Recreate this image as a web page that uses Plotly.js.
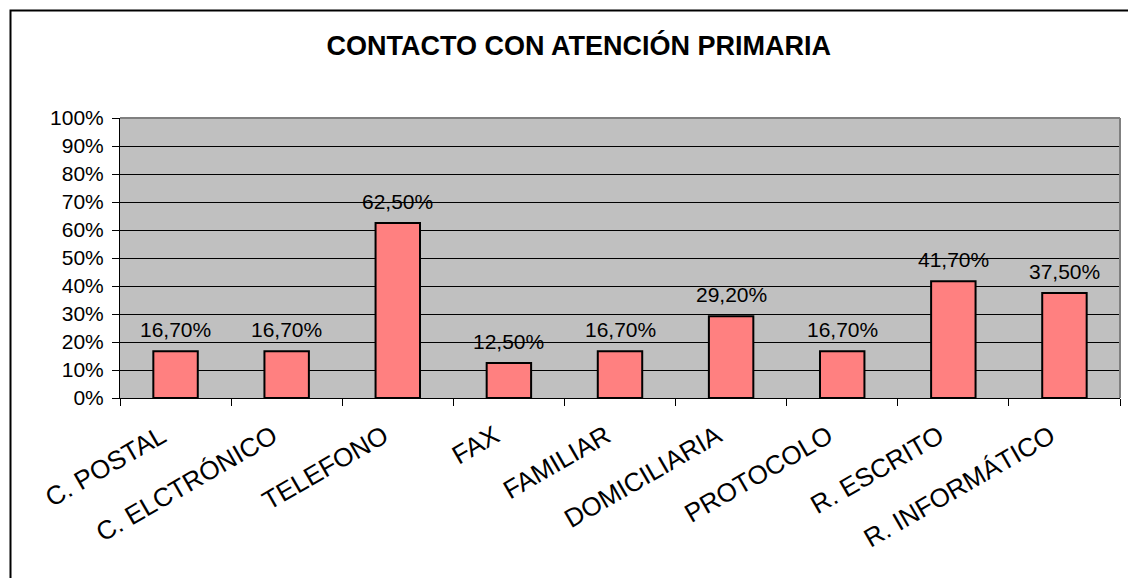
<!DOCTYPE html>
<html>
<head>
<meta charset="utf-8">
<script src="https://cdn.plot.ly/plotly-3.0.1.min.js"></script>
<style>
  html, body { margin: 0; padding: 0; background: #ffffff; }
  #chart { width: 1128px; height: 578px; }
</style>
</head>
<body>
<div id="chart"></div>
<script>
// ---- data ----
const categories = ["C. POSTAL", "C. ELCTRÓNICO", "TELEFONO", "FAX", "FAMILIAR", "DOMICILIARIA", "PROTOCOLO", "R. ESCRITO", "R. INFORMÁTICO"];
const values = [0.167, 0.167, 0.625, 0.125, 0.167, 0.292, 0.167, 0.417, 0.375];
const chartTitle = "CONTACTO CON ATENCIÓN PRIMARIA";

const fmt = v => (v * 100).toFixed(2).replace('.', ',') + '%';

const font = "Liberation Sans, Arial, sans-serif";

const trace = {
  type: 'bar',
  x: categories,
  y: values,
  marker: { color: '#FF8080', line: { color: '#000000', width: 2 } },
  hoverinfo: 'skip'
};

const annotations = categories.map((c, i) => ({
  x: c, y: values[i], xref: 'x', yref: 'y',
  text: fmt(values[i]), showarrow: false,
  yanchor: 'bottom', yshift: 8,
  font: { family: font, size: 21, color: '#000' }
}));

const layout = {
  width: 1128, height: 578,
  margin: { l: 120, r: 8, t: 118, b: 180 },
  paper_bgcolor: '#ffffff',
  plot_bgcolor: '#C0C0C0',
  showlegend: false,
  bargap: 0.6,
  title: {
    text: '<b>' + chartTitle + '</b>',
    font: { family: font, size: 27, color: '#000' },
    xref: 'container', yref: 'container',
    x: 0.513, xanchor: 'center',
    y: 0.921, yanchor: 'middle'
  },
  xaxis: {
    type: 'category',
    tickangle: -30,
    tickson: 'boundaries',
    ticks: 'outside', ticklen: 7, tickcolor: '#000', tickwidth: 1,
    showline: true, linecolor: '#000', linewidth: 1,
    showgrid: false,
    tickfont: { family: font, size: 26, color: '#000' },
    ticklabelstandoff: 12,
    ticklabelshift: -14,
    fixedrange: true
  },
  yaxis: {
    range: [0, 1],
    dtick: 0.1,
    tickformat: '.0%',
    ticks: 'outside', ticklen: 7, tickcolor: '#000', tickwidth: 1,
    showline: true, linecolor: '#000', linewidth: 1,
    showgrid: true, gridcolor: '#000', gridwidth: 1,
    zeroline: false,
    tickfont: { family: font, size: 21, color: '#000' },
    ticklabelstandoff: 4,
    fixedrange: true
  },
  annotations: annotations,
  shapes: [
    // plot area top & right borders (gray)
    { type: 'line', xref: 'paper', yref: 'paper', x0: 0, x1: 1, y0: 1, y1: 1, line: { color: '#808080', width: 2 } },
    { type: 'line', xref: 'paper', yref: 'paper', x0: 1, x1: 1, y0: 0, y1: 1, line: { color: '#808080', width: 2 } },
    // outer chart frame (left and top edges visible)
    { type: 'rect', xref: 'paper', yref: 'paper', x0: -0.1095, x1: 1.02, y0: -0.75, y1: 1.384, line: { color: '#000', width: 2 }, fillcolor: 'rgba(0,0,0,0)', layer: 'above' }
  ]
};

Plotly.newPlot('chart', [trace], layout, { displayModeBar: false, staticPlot: true });
</script>
</body>
</html>
